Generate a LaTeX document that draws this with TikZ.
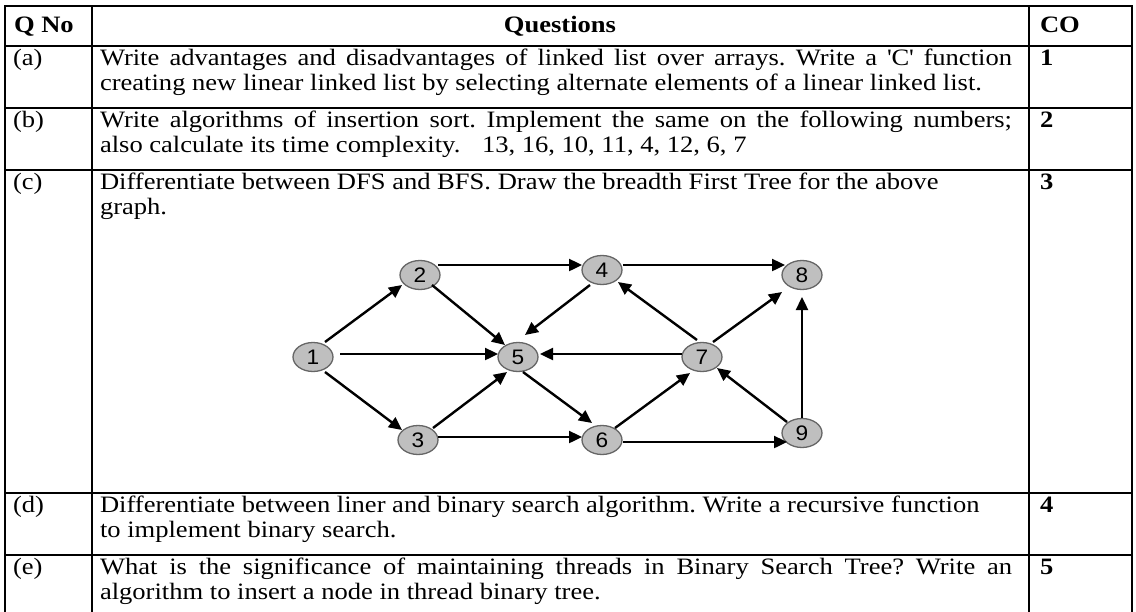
\documentclass[tikz,border=0pt]{standalone}
\usepackage{fontspec}
\setmainfont{Liberation Serif}[FakeStretch=1.13]
\newfontfamily\graphfont{Liberation Sans}[FakeStretch=1.08]
\usetikzlibrary{arrows.meta,shapes.geometric,calc}
\newcommand{\bodyfont}{\fontsize{23.5}{25}\selectfont\frenchspacing}
\newcommand{\jline}[1]{\makebox[912pt][s]{#1}}
\begin{document}
\begin{tikzpicture}[x=1pt,y=-1pt,
  every node/.style={inner sep=0pt,outer sep=0pt},
  ln/.style={anchor=base west,font=\bodyfont},
  hd/.style={anchor=base west,font=\bodyfont\bfseries},
  hdc/.style={anchor=base,font=\bodyfont\bfseries},
  rule/.style={line width=2pt,line cap=rect},
  gn/.style={ellipse,draw=black!60,line width=1.3pt,fill=black!25,
    minimum width=40pt,minimum height=29pt,
    font=\graphfont\fontsize{21}{21}\selectfont},
  arr/.style={line width=2.4pt,-{Triangle[length=13pt,width=12pt]}}]
\fill[white] (0,0) rectangle (1136,611);
\useasboundingbox (0,0) rectangle (1136,611);
% table rules
\foreach \yy in {6,46,108,170,493,555} \draw[rule] (5,\yy) -- (1132,\yy);
\foreach \xx in {5,92,1029,1132} \draw[rule] (\xx,6) -- (\xx,615);
% header
\node[hd] (hq) at (14,32) {Q No};
\node[hdc] (hqs) at (560,32) {Questions};
\node[hd] (hco) at (1040,32) {CO};
% row a
\node[ln] (la) at (13,65) {(a)};
\node[ln] (ta1) at (100,65) {\jline{Write advantages and disadvantages of linked list over arrays. Write a \textquotesingle C\textquotesingle\ function}};
\node[ln] (ta2) at (100,90) {creating new linear linked list by selecting alternate elements of a linear linked list.};
\node[hd] (ca) at (1040,65) {1};
% row b
\node[ln] (lb) at (13,127) {(b)};
\node[ln] (tb1) at (100,127) {\jline{Write algorithms of insertion sort. Implement the same on the following numbers;}};
\node[ln] (tb2) at (100,152) {also calculate its time complexity.};
\node[ln] (tb3) at (482,152) {13, 16, 10, 11, 4, 12, 6, 7};
\node[hd] (cb) at (1040,127) {2};
% row c
\node[ln] (lc) at (13,189) {(c)};
\node[ln] (tc1) at (100,189) {Differentiate between DFS and BFS. Draw the breadth First Tree for the above};
\node[ln] (tc2) at (100,214) {graph.};
\node[hd] (cc) at (1040,189) {3};
% row d
\node[ln] (ld) at (13,512) {(d)};
\node[ln] (td1) at (100,512) {Differentiate between liner and binary search algorithm. Write a recursive function};
\node[ln] (td2) at (100,537) {to implement binary search.};
\node[hd] (cd) at (1040,512) {4};
% row e
\node[ln] (le) at (13,574) {(e)};
\node[ln] (te1) at (100,574) {\jline{What is the significance of maintaining threads in Binary Search Tree? Write an}};
\node[ln] (te2) at (100,599) {algorithm to insert a node in thread binary tree.};
\node[hd] (ce) at (1040,574) {5};
% graph
\node[gn] (n1) at (313,357) {1};
\node[gn] (n2) at (420,275) {2};
\node[gn] (n3) at (418,440) {3};
\node[gn] (n4) at (602,270) {4};
\node[gn] (n5) at (518,357) {5};
\node[gn] (n6) at (602,440) {6};
\node[gn] (n7) at (702,357) {7};
\node[gn] (n8) at (802,275) {8};
\node[gn] (n9) at (802,433) {9};
\draw[arr] ($(n1)+(12,-15)$) -- ($(n2)+(-18,10)$);
\draw[arr] ($(n1)+(27,-3)$) -- ($(n5)+(-20,-3)$);
\draw[arr] ($(n1)+(12,15)$) -- ($(n3)+(-16,-10)$);
\draw[arr] ($(n2)+(18,-10)$) -- ($(n4)+(-20,-5)$);
\draw[arr] ($(n2)+(12,10)$) -- ($(n5)+(-13,-12)$);
\draw[arr] ($(n3)+(15,-12)$) -- ($(n5)+(-11,15)$);
\draw[arr] ($(n3)+(20,-3)$) -- ($(n6)+(-20,-3)$);
\draw[arr] ($(n4)+(21,-5)$) -- ($(n8)+(-17,-10)$);
\draw[arr] ($(n4)+(-12,15)$) -- ($(n5)+(7,-22)$);
\draw[arr] ($(n5)+(5,15)$) -- ($(n6)+(-10,-17)$);
\draw[arr] ($(n6)+(13,-12)$) -- ($(n7)+(-12,16)$);
\draw[arr] ($(n6)+(21,2)$) -- ($(n9)+(-15,9)$);
\draw[arr] ($(n7)+(-20,-3)$) -- ($(n5)+(22,-3)$);
\draw[arr] ($(n7)+(-5,-17)$) -- ($(n4)+(16,12)$);
\draw[arr] ($(n7)+(11,-15)$) -- ($(n8)+(-20,17)$);
\draw[arr] ($(n9)+(-15,-11)$) -- ($(n7)+(15,11)$);
\draw[arr] ($(n9)+(0,-15)$) -- ($(n8)+(0,22)$);
\end{tikzpicture}
\end{document}
